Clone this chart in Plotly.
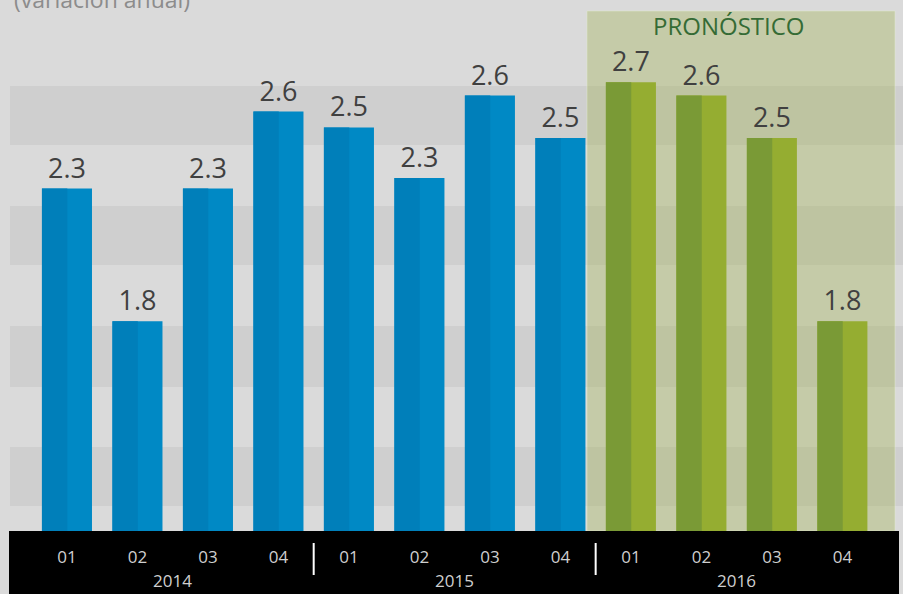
import plotly.graph_objects as go

# ---- data ----
quarters = ["01", "02", "03", "04", "01", "02", "03", "04", "01", "02", "03", "04"]
years = ["2014"] * 4 + ["2015"] * 4 + ["2016"] * 4
values = [2.29, 1.79, 2.29, 2.58, 2.52, 2.33, 2.64, 2.48, 2.69, 2.64, 2.48, 1.79]
is_forecast = [False] * 8 + [True] * 4
year_labels = ["2014", "2015", "2016"]
title_text = "(variación anual)"
forecast_label = "PRONÓSTICO"

cats = [f"{y}-{q}" for y, q in zip(years, quarters)]
light = ["#95ad31" if f else "#0089c5" for f in is_forecast]
dark = ["#7a9a36" if f else "#007fba" for f in is_forecast]

FONT = "Open Sans"
W, H = 903, 594
B = 63
PH = H - B  # plot height in px


def py(px):
    """pixel y (from top) -> paper y"""
    return (PH - px) / PH


fig = go.Figure()
fig.add_bar(
    x=cats, y=values, width=0.71, marker_color=light, marker_line_width=0,
    texttemplate="%{y:.1f}", textposition="outside", constraintext="none",
    textfont=dict(size=27, color="#404040", family=FONT), cliponaxis=False,
    hoverinfo="skip",
)
fig.add_bar(
    x=cats, y=values, width=0.36, offset=-0.355, marker_color=dark,
    marker_line_width=0, hoverinfo="skip",
)

shapes = []
# horizontal bands
for top, bot in [(86, 145), (206, 265), (326, 387), (447, 506)]:
    shapes.append(dict(type="rect", xref="paper", yref="paper", x0=10 / W, x1=1,
                       y0=py(bot), y1=py(top), fillcolor="#cfcfcf", line_width=0,
                       layer="below"))
# forecast region
shapes.append(dict(type="rect", xref="paper", yref="paper", x0=587 / W, x1=895 / W,
                   y0=0, y1=py(11), fillcolor="rgba(160,178,80,0.36)",
                   line=dict(color="rgba(230,235,210,0.5)", width=1), layer="below"))
# black axis strip
shapes.append(dict(type="rect", xref="paper", yref="paper", x0=9 / W, x1=899 / W,
                   y0=-B / PH, y1=0, fillcolor="black", line_width=0, layer="below"))
# separators between years
idx_by_year = {y: [i for i, yy in enumerate(years) if yy == y] for y in year_labels}
for y in year_labels[:-1]:
    xs = max(idx_by_year[y]) + 0.5
    shapes.append(dict(type="line", xref="x", yref="paper", x0=xs, x1=xs,
                       y0=py(543), y1=py(575), line=dict(color="white", width=2)))

annotations = []
for y in year_labels:
    ids = idx_by_year[y]
    annotations.append(dict(x=sum(ids) / len(ids), xref="x", xanchor="center",
                            y=py(580), yref="paper",
                            text=y, showarrow=False, yanchor="middle",
                            font=dict(size=17, color="#cfcfcf", family=FONT)))
annotations.append(dict(x=729 / W, xref="paper", xanchor="center", y=py(25), yref="paper",
                        text=forecast_label, showarrow=False, yanchor="middle",
                        font=dict(size=24, color="#356b35", family=FONT)))
annotations.append(dict(x=12 / W, xref="paper", xanchor="left", y=py(-1), yref="paper",
                        yanchor="middle", text=title_text, showarrow=False,
                        font=dict(size=23, color="#8c8c8c", family=FONT)))

fig.update_layout(
    width=W, height=H, margin=dict(l=0, r=0, t=0, b=B),
    paper_bgcolor="#dadada", plot_bgcolor="#dadada",
    barmode="overlay", showlegend=False,
    shapes=shapes, annotations=annotations,
    xaxis=dict(type="category", range=[-0.95, 11.86], showgrid=False, zeroline=False,
               showline=False, ticks="", tickvals=cats, ticktext=quarters,
               tickfont=dict(size=17, color="#cfcfcf", family=FONT),
               ticklabelstandoff=14),
    yaxis=dict(range=[1.0, 3.0], visible=False, showgrid=False, zeroline=False),
)

fig.write_html("out.html", config={"displayModeBar": False},
               post_script="document.body.style.margin='0';document.body.style.overflow='hidden';")
